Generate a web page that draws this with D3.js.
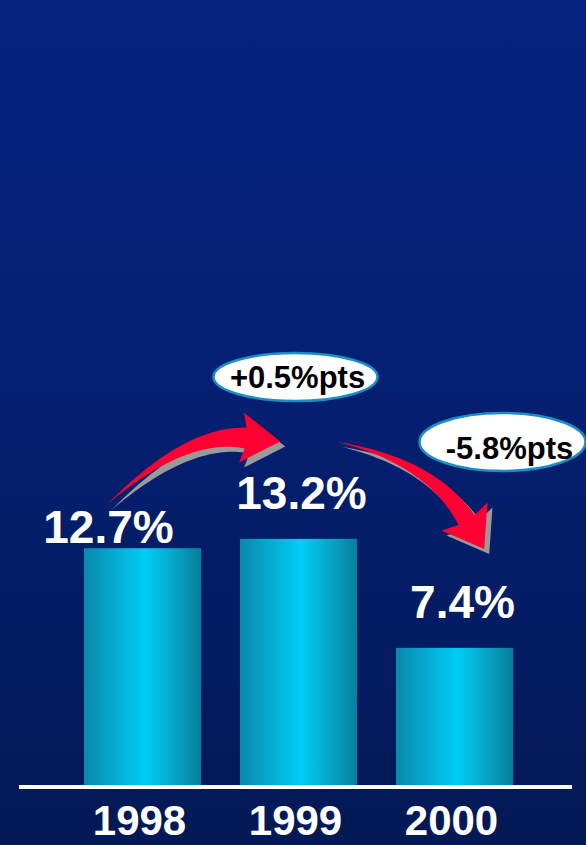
<!DOCTYPE html>
<html>
<head>
<meta charset="utf-8">
<script src="https://cdn.jsdelivr.net/npm/d3@7"></script>
<style>
  html, body { margin: 0; padding: 0; background: #041f6c; }
  svg { display: block; }
  text { font-family: "Liberation Sans", Arial, sans-serif; font-weight: bold; }
</style>
</head>
<body>
<svg id="chart"></svg>
<script>
// chart data
const years = ['1998', '1999', '2000'];
const rates = [12.7, 13.2, 7.4];
const rateLabels = ['12.7%', '13.2%', '7.4%'];
const changeLabels = ['+0.5%pts', '-5.8%pts'];

const width = 586;
const height = 845;
const baseY = 787;

const svg = d3.select('#chart')
    .attr('width', width)
    .attr('height', height);

const defs = svg.append('defs');

// background gradient
const bg = defs.append('linearGradient')
    .attr('id', 'bg')
    .attr('x1', 0).attr('y1', 0).attr('x2', 0).attr('y2', 1);
bg.append('stop').attr('offset', '0%').attr('stop-color', '#05247f');
bg.append('stop').attr('offset', '50%').attr('stop-color', '#041f70');
bg.append('stop').attr('offset', '100%').attr('stop-color', '#031955');

// bar gradient, dark edges and bright middle
const barGrad = defs.append('linearGradient')
    .attr('id', 'barGrad')
    .attr('x1', 0).attr('y1', 0).attr('x2', 1).attr('y2', 0);
barGrad.append('stop').attr('offset', '0%').attr('stop-color', '#0889aa');
barGrad.append('stop').attr('offset', '20%').attr('stop-color', '#06a3c8');
barGrad.append('stop').attr('offset', '52%').attr('stop-color', '#00cdf7');
barGrad.append('stop').attr('offset', '80%').attr('stop-color', '#06a0c2');
barGrad.append('stop').attr('offset', '100%').attr('stop-color', '#077f9c');

svg.append('rect')
    .attr('width', width)
    .attr('height', height)
    .attr('fill', 'url(#bg)');

const x = d3.scaleBand()
    .domain(years)
    .range([64.5, 532.5])
    .paddingInner(0.25)
    .paddingOuter(0.125);

const y = d3.scaleLinear()
    .domain([0, 14])
    .range([baseY, baseY - 14 * 18.8]);

const cx = yr => x(yr) + x.bandwidth() / 2;

const data = years.map((yr, i) => ({ year: yr, value: rates[i], label: rateLabels[i] }));

// bars
svg.selectAll('.bar')
    .data(data)
    .enter().append('rect')
    .attr('class', 'bar')
    .attr('x', d => x(d.year))
    .attr('y', d => y(d.value))
    .attr('width', x.bandwidth())
    .attr('height', d => baseY - y(d.value))
    .attr('fill', 'url(#barGrad)');

// baseline
svg.append('line')
    .attr('x1', 19).attr('x2', 572)
    .attr('y1', baseY).attr('y2', baseY)
    .attr('stroke', '#fff')
    .attr('stroke-width', 4);

// year labels
svg.selectAll('.year')
    .data(data)
    .enter().append('text')
    .attr('class', 'year')
    .attr('x', d => cx(d.year) - 3)
    .attr('y', 835)
    .attr('text-anchor', 'middle')
    .attr('font-size', 42)
    .attr('fill', '#fff')
    .text(d => d.year);

// value labels (the first one sits left of its bar, as in the original)
const labelDx = [-34, 3, 8];
const labelDy = [-5, -30, -30];
svg.selectAll('.value')
    .data(data)
    .enter().append('text')
    .attr('class', 'value')
    .attr('x', (d, i) => cx(d.year) + labelDx[i])
    .attr('y', (d, i) => y(d.value) + labelDy[i])
    .attr('text-anchor', 'middle')
    .attr('font-size', 46)
    .attr('fill', '#fff')
    .text(d => d.label);

// curved tapered arrow built from a quadratic curve
function arrowPath(p0, c, p2, headLen, headHalf, shaftW) {
    const upper = [], lower = [];
    const n = 40;
    for (let i = 0; i <= n; i++) {
        const t = i / n;
        const px = (1 - t) * (1 - t) * p0[0] + 2 * (1 - t) * t * c[0] + t * t * p2[0];
        const py = (1 - t) * (1 - t) * p0[1] + 2 * (1 - t) * t * c[1] + t * t * p2[1];
        const dx = 2 * (1 - t) * (c[0] - p0[0]) + 2 * t * (p2[0] - c[0]);
        const dy = 2 * (1 - t) * (c[1] - p0[1]) + 2 * t * (p2[1] - c[1]);
        const len = Math.hypot(dx, dy);
        const w = shaftW / 2 * Math.pow(t, 1.05);
        upper.push([px - dy / len * w, py + dx / len * w]);
        lower.push([px + dy / len * w, py - dx / len * w]);
    }
    const ex = p2[0] - c[0], ey = p2[1] - c[1];
    const el = Math.hypot(ex, ey);
    const ux = ex / el, uy = ey / el;
    const tip = [p2[0] + ux * headLen, p2[1] + uy * headLen];
    const cA = [p2[0] - uy * headHalf - ux * 4, p2[1] + ux * headHalf - uy * 4];
    const cB = [p2[0] + uy * headHalf - ux * 4, p2[1] - ux * headHalf - uy * 4];
    const pts = upper.concat([cA, tip, cB], lower.reverse());
    return 'M' + pts.map(p => p[0].toFixed(1) + ',' + p[1].toFixed(1)).join('L') + 'Z';
}

const arrows = [
    {
        p0: [cx('1998') - 36, 505],
        c: [cx('1998') + 42, 432],
        p2: [cx('1999') - 53, 438],
        len: 35, half: 25, w: 21
    },
    {
        p0: [cx('1999') + 39, 442],
        c: [cx('2000') - 24, 461],
        p2: [cx('2000') + 12, 520],
        len: 34, half: 27, w: 19
    }
];

arrows.forEach(a => {
    const d = arrowPath(a.p0, a.c, a.p2, a.len, a.half, a.w);
    svg.append('path')
        .attr('d', d)
        .attr('transform', 'translate(5,5)')
        .attr('fill', '#9a9a9a');
    svg.append('path')
        .attr('d', d)
        .attr('fill', '#ff0033');
});

// change bubbles
const bubbles = [
    { cx: cx('1999') - 3, cy: 377, rx: 82, ry: 24, dy: 4 },
    { cx: cx('2000') + 48, cy: 442, rx: 83, ry: 29, dy: 10 }
];

const bubble = svg.selectAll('.bubble')
    .data(changeLabels)
    .enter().append('g')
    .attr('class', 'bubble')
    .attr('transform', (d, i) => `translate(${bubbles[i].cx},${bubbles[i].cy})`);

bubble.append('ellipse')
    .attr('rx', (d, i) => bubbles[i].rx)
    .attr('ry', (d, i) => bubbles[i].ry)
    .attr('fill', '#fff')
    .attr('stroke', '#1b8ec8')
    .attr('stroke-width', 2.5);

bubble.append('text')
    .attr('x', (d, i) => i === 1 ? 7 : 2)
    .attr('y', (d, i) => bubbles[i].dy + 7)
    .attr('text-anchor', 'middle')
    .attr('font-size', 31)
    .attr('fill', '#000')
    .text(d => d);
</script>
</body>
</html>
